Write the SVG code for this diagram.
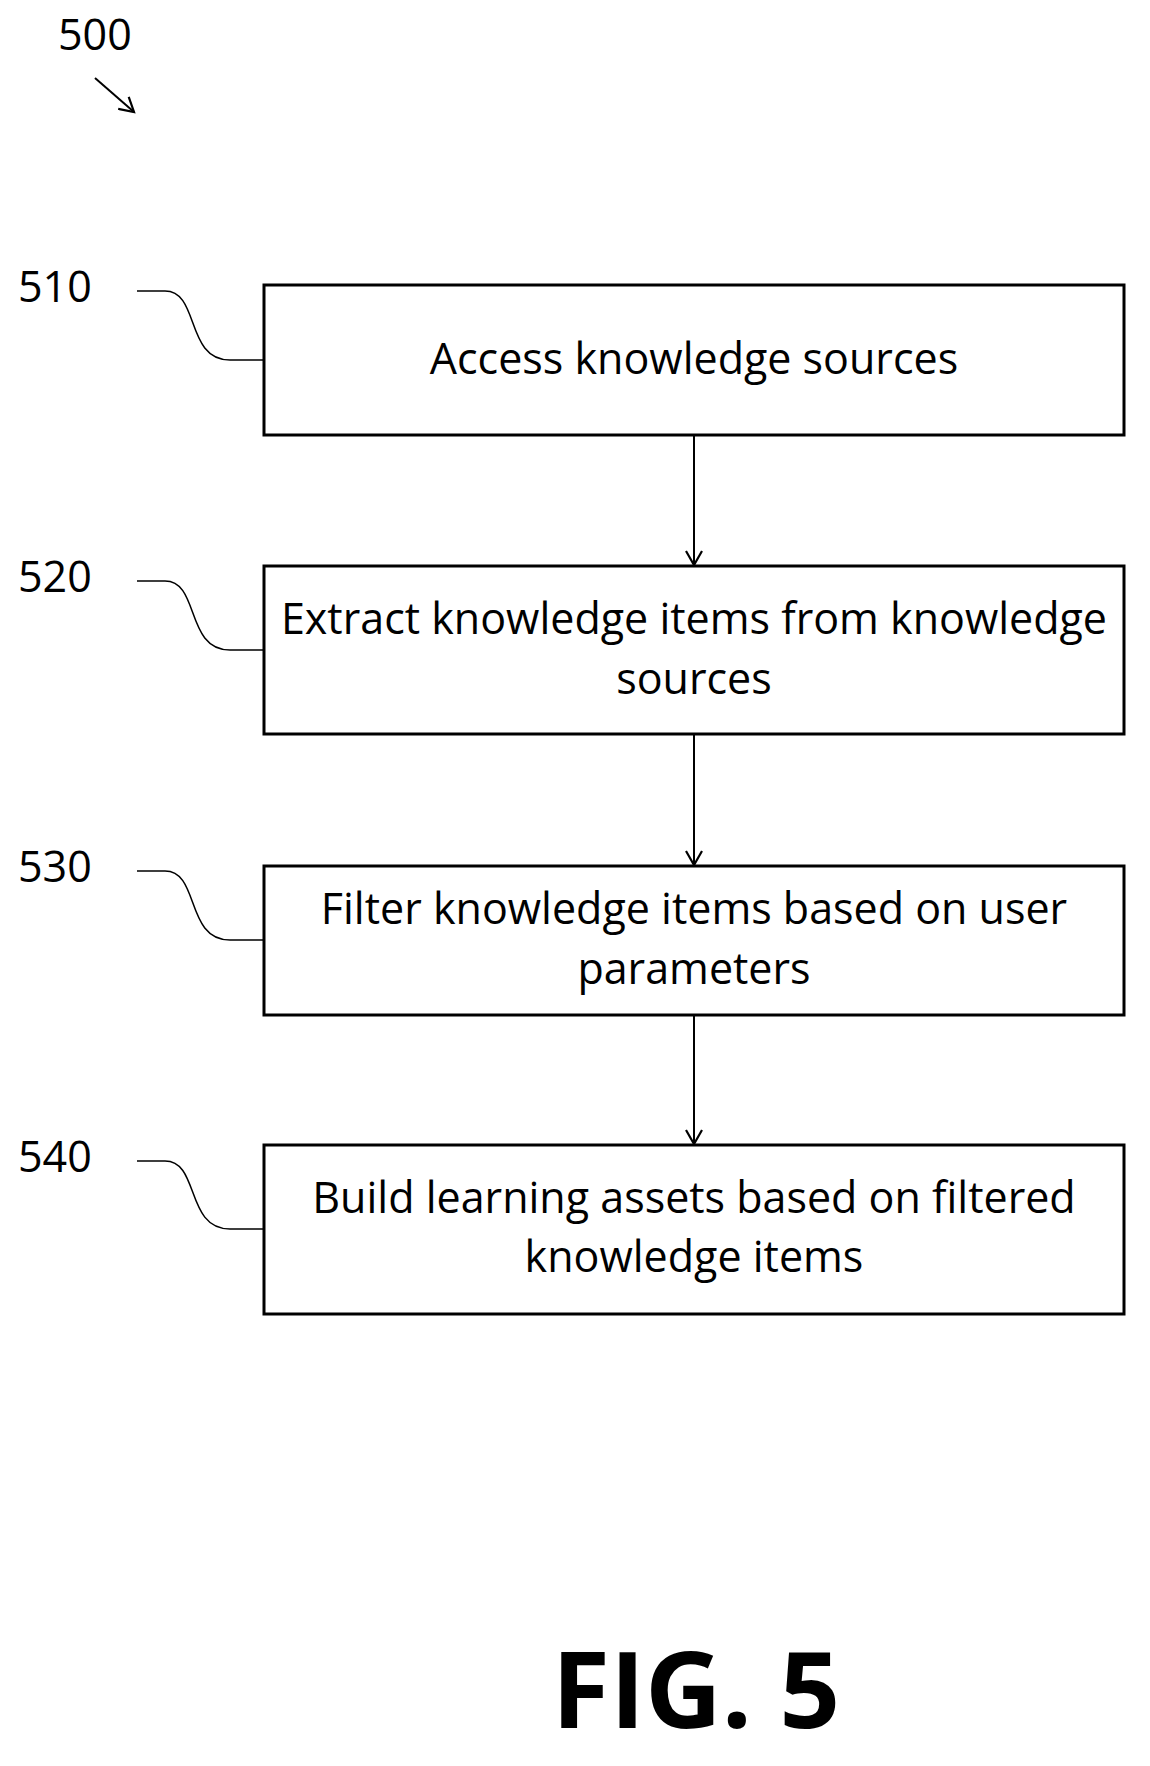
<svg xmlns="http://www.w3.org/2000/svg" width="1150" height="1766" viewBox="0 0 1150 1766">
<style>
.box{fill:#fff;stroke:#000;stroke-width:3}
.t{font-family:"Open Sans","Liberation Sans",sans-serif;font-size:43px;text-anchor:middle;fill:#000}
.lbl{font-family:"Open Sans","Liberation Sans",sans-serif;font-size:43px;fill:#000}
.ld{fill:none;stroke:#000;stroke-width:1.5}
.c{stroke:#000;stroke-width:2;fill:none}
</style>
<defs><marker id="ah" markerWidth="18" markerHeight="18" refX="15" refY="9" orient="auto" markerUnits="userSpaceOnUse"><path d="M1,1 L15,9 L1,17" fill="none" stroke="#000" stroke-width="2.2"/></marker></defs>
<text class="lbl" x="58" y="50">500</text>
<line class="c" x1="95" y1="78" x2="134" y2="112" marker-end="url(#ah)"/>
<g id="n510"><text class="lbl" x="18" y="302">510</text><path class="ld" d="M137,291 H165 C200,291 185,360 230,360 H264"/><rect class="box" x="264" y="285" width="860" height="150"/><text class="t" x="694" y="374">Access knowledge sources</text></g>
<g id="n520"><text class="lbl" x="18" y="592">520</text><path class="ld" d="M137,581 H165 C200,581 185,650 230,650 H264"/><rect class="box" x="264" y="566" width="860" height="168"/><text class="t" x="694" y="634">Extract knowledge items from knowledge</text><text class="t" x="694" y="694">sources</text></g>
<g id="n530"><text class="lbl" x="18" y="882">530</text><path class="ld" d="M137,871 H165 C200,871 185,940 230,940 H264"/><rect class="box" x="264" y="866" width="860" height="149"/><text class="t" x="694" y="924">Filter knowledge items based on user</text><text class="t" x="694" y="984">parameters</text></g>
<g id="n540"><text class="lbl" x="18" y="1172">540</text><path class="ld" d="M137,1161 H165 C200,1161 185,1229 230,1229 H264"/><rect class="box" x="264" y="1145" width="860" height="169"/><text class="t" x="694" y="1213">Build learning assets based on filtered</text><text class="t" x="694" y="1272">knowledge items</text></g>
<g id="connectors">
<line class="c" x1="694" y1="435" x2="694" y2="565" marker-end="url(#ah)"/>
<line class="c" x1="694" y1="734" x2="694" y2="865" marker-end="url(#ah)"/>
<line class="c" x1="694" y1="1015" x2="694" y2="1144" marker-end="url(#ah)"/>
</g>
<text x="696" y="1728" font-family="'Open Sans','Liberation Sans',sans-serif" font-weight="bold" font-size="106" text-anchor="middle">FIG. 5</text>
</svg>
